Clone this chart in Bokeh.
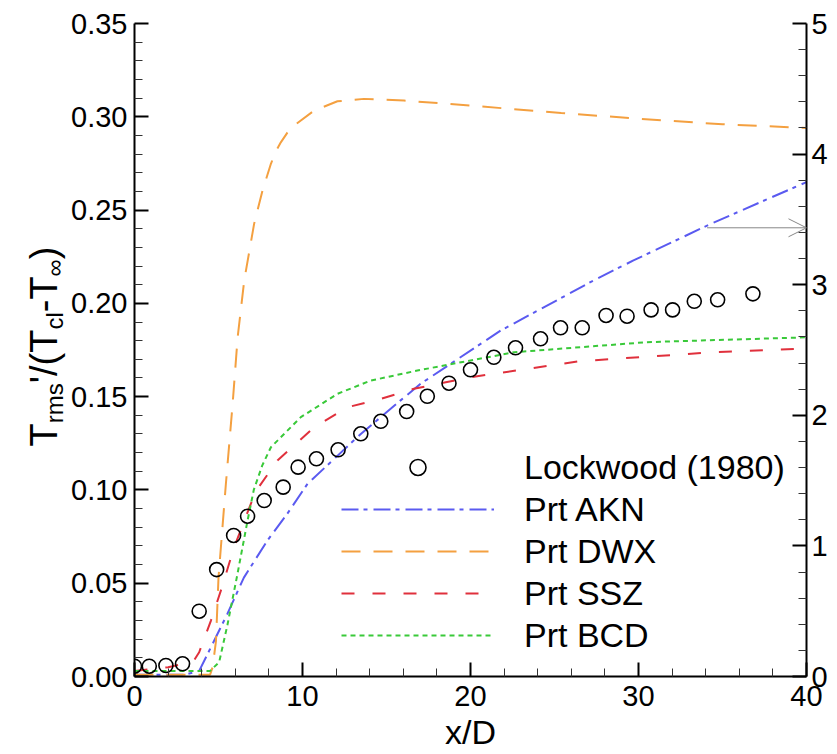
import math
from bokeh.plotting import figure
from bokeh.layouts import row
from bokeh.models import (Range1d, LinearAxis, Legend, LegendItem, Arrow, OpenHead,
                          FixedTicker, PrintfTickFormatter)
from bokeh.core.properties import value
from bokeh.embed import file_html
from bokeh.resources import INLINE

# ---------------- data ----------------
exp_x = [0.0, 0.88, 1.87, 2.86, 3.85, 4.89, 5.90, 6.73, 7.72, 8.85, 9.74, 10.83, 12.12,
         13.47, 14.66, 16.2, 17.43, 18.72, 20.0, 21.39, 22.68, 24.17, 25.36, 26.65,
         28.07, 29.32, 30.75, 32.03, 33.32, 34.71, 36.81]
exp_y = [0.0055, 0.0055, 0.0059, 0.0068, 0.035, 0.0573, 0.0756, 0.0859, 0.0943, 0.1015,
         0.1122, 0.1167, 0.1215, 0.1301, 0.1368, 0.142, 0.1502, 0.1572, 0.1644, 0.1711,
         0.1762, 0.181, 0.1869, 0.1869, 0.1935, 0.1931, 0.1965, 0.1965, 0.2011, 0.2019,
         0.2051]

akn_x = [0, 3.0, 3.85, 4.65, 5.54, 6.51, 7.92, 9.1, 10.3, 13.47, 15.84, 17.03, 21.79,
         27.5, 29.7, 34.3, 40]
akn_y = [0.001, 0.001, 0.003, 0.0175, 0.0338, 0.053, 0.073, 0.0873, 0.1033, 0.130, 0.148,
         0.1569, 0.1854, 0.2131, 0.223, 0.2426, 0.265]

dwx_x = [0, 4.5, 4.65, 4.85, 5.0, 5.44, 5.84, 6.14, 6.53, 7.12, 7.62, 8.12, 8.4, 8.71,
         9.1, 9.5, 10.69, 12.08, 13.66, 16.04, 20, 25.4, 30, 35, 40]
dwx_y = [0.001, 0.001, 0.005, 0.019, 0.053, 0.1033, 0.146, 0.1818, 0.2122, 0.2426, 0.2605,
         0.2748, 0.2812, 0.2863, 0.2915, 0.2953, 0.3033, 0.3083, 0.3096, 0.3087, 0.306,
         0.302, 0.299, 0.296, 0.294]

ssz_x = [0, 1, 2, 3, 3.5, 3.85, 4.55, 5.14, 5.92, 7.2, 8.51, 10.69, 12.68, 14.65, 16.63,
         20, 26.5, 34.45, 40]
ssz_y = [0.003, 0.004, 0.005, 0.007, 0.008, 0.013, 0.03, 0.046, 0.069, 0.099, 0.1158,
         0.1336, 0.1443, 0.1488, 0.1542, 0.1604, 0.169, 0.1738, 0.1758]

bcd_x = [0, 4.5, 5.04, 5.54, 6.13, 6.73, 7.1, 7.6, 8.12, 9.9, 12.08, 14.06, 16.84, 22.6,
         30.5, 40]
bcd_y = [0.003, 0.003, 0.0077, 0.028, 0.055, 0.0836, 0.100, 0.113, 0.1229, 0.139, 0.1515,
         0.1586, 0.164, 0.1738, 0.1792, 0.1818]

arrow_x = [34.08, 40.0]
arrow_y = [0.2405, 0.2405]

series_labels = ["Lockwood (1980)", "Prt AKN", "Prt DWX", "Prt SSZ", "Prt BCD"]

x_major = [0, 10, 20, 30, 40]
x_minor = [2, 4, 6, 8, 12, 14, 16, 18, 22, 24, 26, 28, 32, 34, 36, 38]
y_major = [0.0, 0.05, 0.10, 0.15, 0.20, 0.25, 0.30, 0.35]
y_minor = [0.01, 0.02, 0.03, 0.04, 0.06, 0.07, 0.08, 0.09, 0.11, 0.12, 0.13, 0.14,
           0.16, 0.17, 0.18, 0.19, 0.21, 0.22, 0.23, 0.24, 0.26, 0.27, 0.28, 0.29,
           0.31, 0.32, 0.33, 0.34]
r_major = [0, 1, 2, 3, 4, 5]
r_minor = [0.2, 0.4, 0.6, 0.8, 1.2, 1.4, 1.6, 1.8, 2.2, 2.4, 2.6, 2.8, 3.2, 3.4, 3.6,
           3.8, 4.2, 4.4, 4.6, 4.8]

FONT = "Liberation Sans"
W_LEFT = 68
W_MAIN = 837 - W_LEFT
H = 754
FRAME_TOP, FRAME_BOTTOM = 23, 676

# ---------------- main figure ----------------
p = figure(width=W_MAIN, height=H, output_backend="svg", toolbar_location=None,
           x_range=Range1d(0, 40), y_range=Range1d(0, 0.35),
           min_border_left=133 - W_LEFT, min_border_top=FRAME_TOP, min_border_right=31,
           min_border_bottom=H - FRAME_BOTTOM)
p.outline_line_color = None
p.xgrid.visible = False
p.ygrid.visible = False

p.extra_y_ranges = {"r": Range1d(0, 5)}
raxis = LinearAxis(y_range_name="r")
p.add_layout(raxis, "right")

p.xaxis.ticker = FixedTicker(ticks=x_major, minor_ticks=x_minor)
p.yaxis[0].ticker = FixedTicker(ticks=y_major, minor_ticks=y_minor)
p.yaxis[0].formatter = PrintfTickFormatter(format="%.2f")
raxis.ticker = FixedTicker(ticks=r_major, minor_ticks=r_minor)

for ax in [p.xaxis[0], p.yaxis[0], raxis]:
    ax.axis_line_color = "black"
    ax.axis_line_width = 2
    ax.major_tick_in = 14
    ax.major_tick_out = 0
    ax.minor_tick_in = 8
    ax.minor_tick_out = 0
    ax.major_tick_line_color = "black"
    ax.major_tick_line_width = 2
    ax.minor_tick_line_color = "#333333"
    ax.minor_tick_line_width = 1
    ax.major_label_text_font = FONT
    ax.major_label_text_font_size = "29px"
    ax.major_label_text_color = "black"
    ax.major_label_standoff = 7
raxis.major_label_standoff = 5

xax = p.xaxis[0]
xax.major_label_standoff = 9
xax.axis_label = "x/D"
xax.axis_label_text_font = FONT
xax.axis_label_text_font_size = "34px"
xax.axis_label_text_font_style = "normal"
xax.axis_label_text_color = "black"
xax.axis_label_standoff = 4

r_akn = p.line(akn_x, akn_y, line_color="#5a5af0", line_width=2, line_dash="17 5 4 6")
r_dwx = p.line(dwx_x, dwx_y, line_color="#f4a040", line_width=2, line_dash="19 13")
r_ssz = p.line(ssz_x, ssz_y, line_color="#e0303c", line_width=2, line_dash="13 18")
r_bcd = p.line(bcd_x, bcd_y, line_color="#39c939", line_width=2, line_dash="5 4")
r_exp = p.scatter(exp_x, exp_y, marker="circle", size=14, fill_color=None,
                  line_color="black", line_width=1.6)

p.add_layout(Arrow(end=OpenHead(size=18, line_color="#888888", line_width=1),
                   x_start=arrow_x[0], y_start=arrow_y[0],
                   x_end=arrow_x[1], y_end=arrow_y[1],
                   line_color="#888888", line_width=1))

legend = Legend(items=[LegendItem(label=series_labels[0], renderers=[r_exp]),
                       LegendItem(label=series_labels[1], renderers=[r_akn]),
                       LegendItem(label=series_labels[2], renderers=[r_dwx]),
                       LegendItem(label=series_labels[3], renderers=[r_ssz]),
                       LegendItem(label=series_labels[4], renderers=[r_bcd])],
                location=(207, 21), glyph_width=153, glyph_height=40,
                label_height=40, spacing=2, label_standoff=30, padding=0, margin=0,
                border_line_color=None, background_fill_alpha=0,
                label_text_font=FONT, label_text_font_size="34px",
                label_text_color="black")
p.add_layout(legend)

# ---------------- y-axis title strip (frame aligned with main frame) ----------------
ylab = figure(width=W_LEFT, height=H, output_backend="svg", toolbar_location=None,
              x_range=Range1d(0, W_LEFT), y_range=Range1d(H - FRAME_BOTTOM, H - FRAME_TOP),
              x_axis_location=None, y_axis_location=None, min_border=0)
ylab.outline_line_color = None
ylab.xgrid.visible = False
ylab.ygrid.visible = False

MAIN, SUB = 38, 24
pieces = [("T", MAIN, 0.611), ("rms", SUB, 1.666), ("'/(T", MAIN, 1.413),
          ("cl", SUB, 0.722), ("-T", MAIN, 0.944), ("\u221e", SUB, 0.713),
          (")", MAIN, 0.333)]
ypos = H - 446.0
for txt, fs, em in pieces:
    xb = 43 if fs == MAIN else 54
    ylab.text(x=[xb], y=[ypos], text=[txt], angle=math.pi / 2,
              text_font=value(FONT), text_font_size=f"{fs}px",
              text_align="left", text_baseline="alphabetic", text_color="black")
    ypos += em * fs

layout = row(ylab, p, spacing=0)
open("out.html", "w").write(file_html(layout, INLINE))
